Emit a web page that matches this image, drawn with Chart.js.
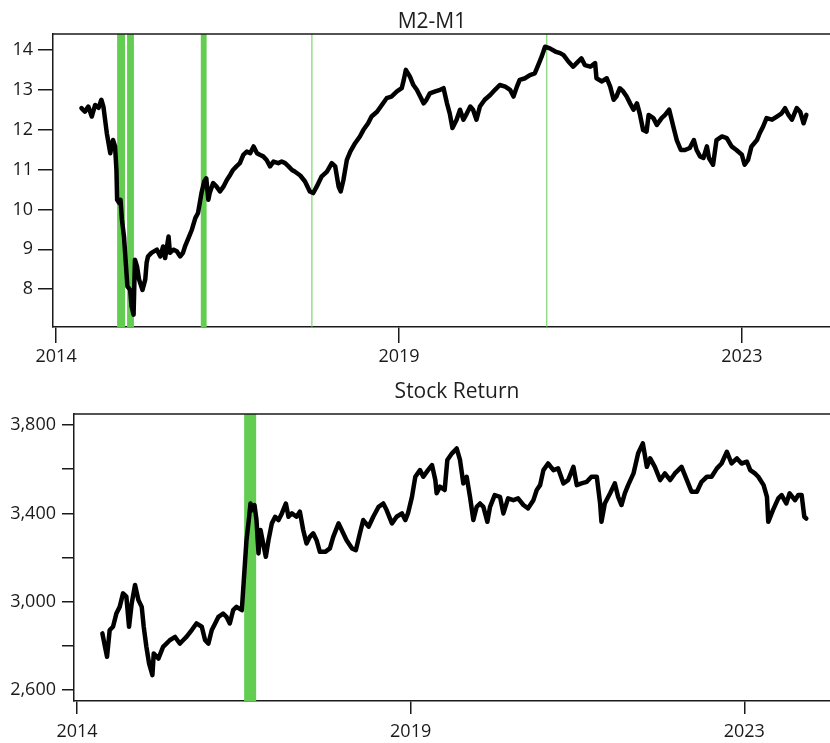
<!DOCTYPE html>
<html>
<head>
<meta charset="utf-8">
<script src="https://cdn.jsdelivr.net/npm/chart.js@4.4.1/dist/chart.umd.min.js"></script>
<style>
  html, body { margin: 0; padding: 0; background: #ffffff; }
  #wrap { position: relative; width: 830px; height: 743px; overflow: hidden;
          font-family: "Open Sans", "Noto Sans", sans-serif; color: #1e1e1e; }
  .panel { position: absolute; left: 0; width: 830px; }
  .panel canvas { display: block; }
  .title { position: absolute; font-size: 21px; line-height: 21px; white-space: nowrap;
           transform: translateX(-50%); }
</style>
</head>
<body>
<div id="wrap">
  <div class="panel" style="top:0;height:372px"><canvas id="m2" width="830" height="372"></canvas></div>
  <div class="panel" style="top:372px;height:371px"><canvas id="stock" width="830" height="371"></canvas></div>
  <div class="title" style="left:432px;top:10px">M2-M1</div>
  <div class="title" style="left:457px;top:380px">Stock Return</div>
</div>
<script>
// Shared observation axis: the year labels sit at these observation numbers.
const yearTickObs = [0, 500, 1000];
const yearTickLabels = ['2014', '2019', '2023'];

// M2-M1 spread
const m2Obs = [37,42,47,52,57,62,66,69,74,79,83,86,88,89,92,94,96,99,102,104,
  108,110,113,115,118,121,126,130,132,134,139,147,152,156,159,164,166,171,176,181,
  185,188,193,198,203,207,212,216,219,222,224,229,234,239,244,249,254,258,263,268,
  273,278,283,288,293,297,302,307,312,317,324,329,334,339,344,348,356,363,370,375,
  380,387,395,402,407,412,415,419,424,429,436,443,448,455,460,468,475,482,489,497,
  504,507,510,516,521,526,531,536,540,545,553,560,565,570,574,578,584,589,594,599,
  604,608,613,618,625,633,640,647,655,662,667,672,676,684,691,698,703,708,713,720,
  728,735,740,747,754,759,766,771,779,786,788,796,803,808,813,817,822,827,832,837,
  842,847,851,856,861,864,871,876,883,888,894,900,905,911,917,924,930,934,939,944,
  949,952,958,963,971,978,985,992,1000,1004,1009,1014,1022,1026,1031,1036,1044,1051,1058,1063,
  1068,1073,1080,1085,1090,1094];
const m2Values = [12.54,12.45,12.58,12.33,12.62,12.55,12.75,12.58,11.91,11.41,
  11.74,11.58,10.99,10.24,10.16,10.24,9.74,9.32,8.57,8.07,
  7.98,7.57,7.36,8.74,8.57,8.24,7.98,8.24,8.66,8.82,
  8.91,8.99,8.82,9.07,8.78,9.32,8.91,8.99,8.95,8.82,
  8.91,9.07,9.28,9.49,9.78,9.91,10.41,10.70,10.78,10.24,
  10.41,10.66,10.57,10.45,10.57,10.74,10.87,10.99,11.08,11.16,
  11.37,11.45,11.41,11.58,11.41,11.37,11.33,11.24,11.08,11.20,
  11.16,11.20,11.16,11.08,10.99,10.95,10.85,10.70,10.45,10.41,
  10.57,10.82,10.95,11.16,11.08,10.57,10.45,10.74,11.24,11.45,
  11.66,11.83,11.99,12.16,12.33,12.45,12.62,12.79,12.83,12.96,
  13.04,13.25,13.50,13.33,13.12,13.00,12.83,12.66,12.75,12.91,
  12.96,13.00,13.04,12.66,12.41,12.04,12.25,12.50,12.25,12.41,
  12.58,12.50,12.25,12.58,12.75,12.87,13.00,13.12,13.08,13.00,
  12.83,13.08,13.25,13.29,13.37,13.41,13.62,13.83,14.08,14.04,
  13.96,13.92,13.87,13.71,13.58,13.67,13.79,13.62,13.58,13.67,
  13.29,13.21,13.29,13.08,12.75,12.83,13.04,12.96,12.83,12.66,
  12.50,12.66,12.41,11.99,11.95,12.37,12.29,12.12,12.29,12.37,
  12.50,12.08,11.74,11.49,11.49,11.54,11.74,11.49,11.33,11.29,
  11.58,11.29,11.12,11.74,11.83,11.79,11.58,11.49,11.37,11.12,
  11.24,11.58,11.74,11.91,12.08,12.29,12.25,12.33,12.41,12.54,
  12.37,12.25,12.54,12.45,12.16,12.37];
const m2Bands = [[89, 100.5], [103.5, 113.5], [211, 219.5], [372.3, 373.7], [714.8, 716.2]];
const m2TickValues = [8, 9, 10, 11, 12, 13, 14];

// Stock return index
const stockObs = [38,42,45,49,54,59,64,69,74,78,82,87,92,97,100,104,108,113,115,122,
  129,134,139,147,154,159,164,172,179,187,192,197,202,207,212,219,224,229,234,239,
  247,249,252,254,258,260,263,266,269,272,275,280,283,287,292,297,302,307,313,317,
  322,329,334,339,344,349,354,359,364,372,379,384,392,399,404,412,418,424,429,437,
  444,452,459,464,472,479,487,492,496,502,507,514,519,526,532,537,539,544,551,555,
  562,569,574,579,584,589,594,599,604,609,615,619,626,634,639,646,654,661,669,676,
  684,689,694,699,706,714,721,729,736,744,749,756,764,771,779,784,786,791,799,806,
  811,816,821,826,834,841,848,854,859,866,874,881,889,896,906,914,921,929,936,944,
  951,959,966,974,981,989,996,1004,1009,1016,1021,1029,1034,1036,1043,1051,1056,1063,1068,1076,
  1081,1086,1090,1093];
const stockValues = [2857,2796,2751,2872,2887,2947,2977,3038,3023,2887,
  2993,3076,3008,2977,2887,2796,2721,2668,2766,2743,
  2796,2811,2826,2841,2811,2826,2841,2872,2902,2887,
  2826,2811,2872,2902,2932,2947,2932,2902,2962,2977,
  2962,3053,3189,3279,3385,3445,3415,3438,3370,3219,
  3325,3249,3204,3279,3355,3385,3370,3400,3445,3385,
  3400,3385,3408,3325,3264,3294,3310,3279,3226,3226,
  3242,3294,3355,3310,3279,3242,3234,3310,3370,3340,
  3385,3430,3445,3415,3355,3385,3400,3370,3400,3475,
  3566,3596,3566,3596,3619,3551,3491,3521,3506,3642,
  3672,3694,3642,3536,3566,3475,3370,3430,3445,3430,
  3362,3430,3483,3475,3400,3468,3460,3468,3438,3423,
  3460,3506,3528,3596,3626,3596,3604,3536,3551,3611,
  3528,3536,3543,3566,3566,3445,3362,3445,3491,3536,
  3475,3438,3491,3528,3581,3672,3717,3611,3649,3611,
  3551,3581,3551,3581,3611,3551,3498,3498,3543,3566,
  3566,3604,3626,3679,3626,3649,3626,3634,3596,3581,
  3566,3528,3475,3362,3415,3468,3483,3445,3491,3460,
  3483,3483,3385,3377];
const stockBands = [[250.5, 268.5]];
const stockTickValues = [2600, 2800, 3000, 3200, 3400, 3600, 3800];
const stockLabeledValues = [2600, 3000, 3400, 3800];

const INK = '#1a1a1a';
const LINE = '#000000';
const GREEN = '#63cd52';
const FONT = '"Open Sans", "Noto Sans", sans-serif';

// Green shaded periods, placed through the x scale.
const shadeBands = {
  id: 'shadeBands',
  beforeDatasetsDraw(chart, args, opts) {
    const { ctx, chartArea: a, scales: { x } } = chart;
    ctx.save();
    ctx.fillStyle = opts.color;
    for (const [s, e] of (opts.bands || [])) {
      const x1 = x.getPixelForValue(s);
      const x2 = x.getPixelForValue(e);
      ctx.fillRect(x1, a.top, Math.max(x2 - x1, 1), a.bottom - a.top);
    }
    ctx.restore();
  }
};

// Upper frame line of the plot box (the right side stays open).
const topRule = {
  id: 'topRule',
  afterDraw(chart) {
    const { ctx, chartArea: a } = chart;
    ctx.save();
    ctx.strokeStyle = INK;
    ctx.lineWidth = 1.5;
    ctx.beginPath();
    ctx.moveTo(a.left, a.top);
    ctx.lineTo(a.right, a.top);
    ctx.stroke();
    ctx.restore();
  }
};

function makePanel(id, cfg) {
  const points = cfg.obs.map((o, i) => ({ x: o, y: cfg.values[i] }));
  return new Chart(document.getElementById(id), {
    type: 'line',
    data: {
      datasets: [{
        data: points,
        borderColor: LINE,
        borderWidth: 4.5,
        pointRadius: 0,
        tension: 0,
        borderJoinStyle: 'round',
        borderCapStyle: 'round'
      }]
    },
    options: {
      responsive: false,
      animation: false,
      devicePixelRatio: 1,
      layout: { padding: { top: cfg.padTop, left: 0, right: 0, bottom: 0 } },
      plugins: {
        legend: { display: false },
        tooltip: { enabled: false },
        shadeBands: { bands: cfg.bands, color: GREEN }
      },
      scales: {
        x: {
          type: 'linear',
          min: -4.5,
          max: 1128.5,
          afterBuildTicks: s => { s.ticks = yearTickObs.map(v => ({ value: v })); },
          afterFit: s => { s.height = cfg.xHeight; },
          ticks: {
            callback: v => yearTickLabels[yearTickObs.indexOf(v)],
            font: { family: FONT, size: 18 },
            color: INK,
            padding: cfg.xPad,
            maxRotation: 0,
            autoSkip: false
          },
          grid: {
            drawOnChartArea: false,
            tickLength: cfg.xTick,
            tickColor: INK,
            tickWidth: 1.5,
            lineWidth: 1.5,
            color: INK
          },
          border: { display: true, color: INK, width: 1.5 }
        },
        y: {
          type: 'linear',
          min: cfg.yMin,
          max: cfg.yMax,
          afterBuildTicks: s => { s.ticks = cfg.yTicks.map(v => ({ value: v })); },
          afterFit: s => { s.width = cfg.yWidth; },
          ticks: {
            callback: cfg.yLabel,
            font: { family: FONT, size: 18 },
            color: INK,
            padding: cfg.yPad,
            autoSkip: false
          },
          grid: {
            drawOnChartArea: false,
            tickLength: cfg.yTick,
            tickColor: INK,
            tickWidth: 1.5,
            lineWidth: 1.5,
            color: INK
          },
          border: { display: true, color: INK, width: 1.5 }
        }
      }
    },
    plugins: [shadeBands, topRule]
  });
}

makePanel('m2', {
  obs: m2Obs, values: m2Values, bands: m2Bands,
  padTop: 34, xHeight: 45, xTick: 16, xPad: 3,
  yWidth: 53, yTick: 15, yPad: 5,
  yMin: 7.05, yMax: 14.4, yTicks: m2TickValues,
  yLabel: v => String(v)
});

makePanel('stock', {
  obs: stockObs, values: stockValues, bands: stockBands,
  padTop: 42, xHeight: 42, xTick: 13, xPad: 7,
  yWidth: 74, yTick: 12, yPad: 6,
  yMin: 2551, yMax: 3850, yTicks: stockTickValues,
  yLabel: v => stockLabeledValues.includes(v) ? v.toLocaleString('en-US') : ''
});
</script>
</body>
</html>
